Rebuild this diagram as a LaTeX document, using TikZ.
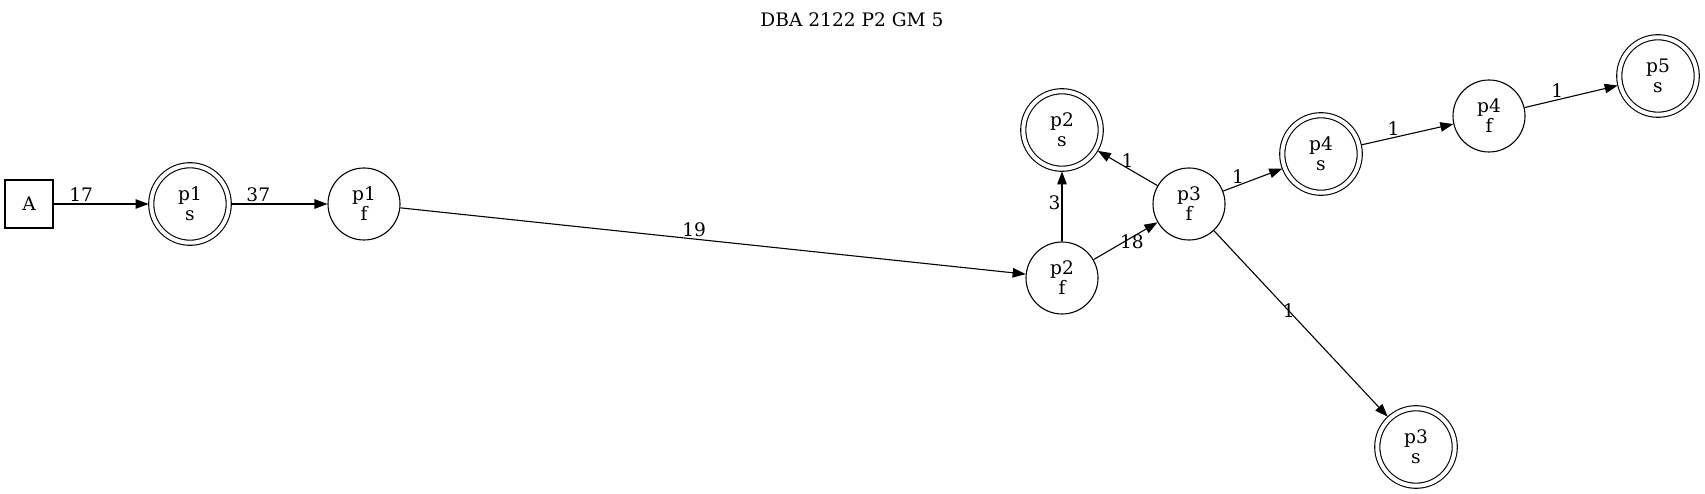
\documentclass[tikz,border=0pt]{standalone}
\usepackage{fontspec}
\setmainfont{DejaVu Serif}
\usetikzlibrary{arrows.meta}
\let\statesize\relax
\let\finalsize\relax
\let\gvfont\relax
\newcommand{\statesize}{72pt}
\newcommand{\finalsize}{77.5pt}
\newcommand{\gvfont}{\fontsize{18.6}{20}\selectfont}
\tikzstyle{start}=[draw=black,shape=rectangle,minimum width=48pt,minimum height=48pt,
                   line width=1.1pt,font=\gvfont]
\tikzstyle{state}=[draw=black,shape=circle,minimum size=\statesize,inner sep=0pt,
                   align=center,line width=1.1pt,font=\gvfont]
\tikzstyle{final}=[state,minimum size=\finalsize,double,double distance=4pt,outer sep=2.7pt]
\tikzstyle{edge}=[-{Triangle[length=13pt,width=9.5pt]},line width=1.1pt]
\tikzstyle{lbl}=[font=\gvfont,inner sep=1.5pt]

\begin{document}
\begin{tikzpicture}[x=1pt,y=-1pt]
\useasboundingbox (0,0) rectangle (1705,494);

\node [font=\gvfont] (title) at (852,20) {DBA 2122 P2 GM 5};

\node [start] (a) at (29,204) {A};
\node [final] (p1s) at (190,204) {p1\\s};
\node [state] (p1f) at (364,204) {p1\\f};
\node [state] (p2f) at (1062,278) {p2\\f};
\node [final] (p2s) at (1062,130) {p2\\s};
\node [state] (p3f) at (1189,204) {p3\\f};
\node [final] (p4s) at (1321,154) {p4\\s};
\node [state] (p4f) at (1489,116) {p4\\f};
\node [final] (p5s) at (1658,76) {p5\\s};
\node [final] (p3s) at (1416,447) {p3\\s};

\draw [edge] (a) -- (p1s) node[lbl, pos=0.29, above] {17};
\draw [edge] (p1s) -- (p1f) node[lbl, pos=0.28, above] {37};
\draw [edge] (p1f) -- (p2f) node[lbl, pos=0.47, above] {19};
\draw [edge] (p2f) -- (p2s) node[lbl, pos=0.55, left, inner sep=1pt] {3};
\draw [edge] (p2f) -- (p3f) node[lbl, pos=0.6, yshift=-4pt] {18};
\draw [edge] (p3f) -- (p2s) node[lbl, pos=0.5, above, inner sep=0.5pt] {1};
\draw [edge] (p3f) -- (p4s) node[lbl, pos=0.25, above] {1};
\draw [edge] (p4s) -- (p4f) node[lbl, pos=0.35, above] {1};
\draw [edge] (p4f) -- (p5s) node[lbl, pos=0.35, above] {1};
\draw [edge] (p3f) -- (p3s) node[lbl, pos=0.43] {1};
\end{tikzpicture}
\end{document}
